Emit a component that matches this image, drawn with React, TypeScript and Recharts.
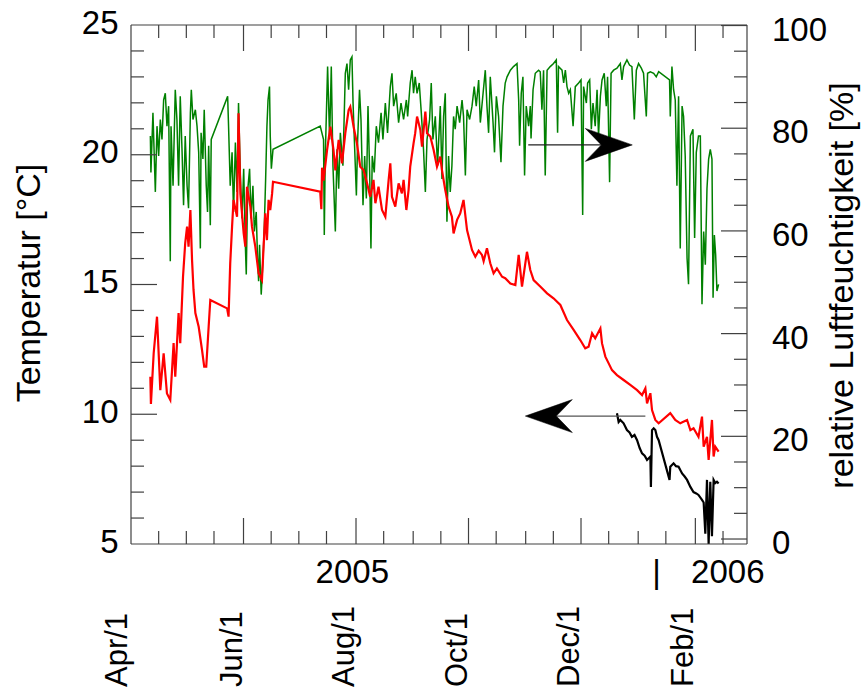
import React from 'react';
import { LineChart, Line, XAxis, YAxis, ReferenceLine } from 'recharts';

const FONT = '"Liberation Sans", Arial, Helvetica, sans-serif';
const AXIS = '#404040';

// x values are days since 1 April 2005
const tickDays = [15, 30, 45, 61, 76, 91, 106, 122, 137, 153, 168, 183, 198, 214, 229, 244, 259, 275, 290, 306, 321];
const majorDays = [61, 122, 183, 244, 306];
const monthLabelDays = [0, 61, 122, 183, 244, 306];
const monthLabels = ['Apr/1', 'Jun/1', 'Aug/1', 'Oct/1', 'Dec/1', 'Feb/1'];
const yearLabelDays = [120, 285, 323.6];
const yearLabels = ['2005', '|', '2006'];
const bottomTicks = [0, ...tickDays, ...yearLabelDays];
const tempTicks = [5, 6, 7, 8, 9, 10, 11, 12, 13, 14, 15, 16, 17, 18, 19, 20, 21, 22, 23, 24, 25];
const humTicks = [0, 5, 10, 15, 20, 25, 30, 35, 40, 45, 50, 55, 60, 65, 70, 75, 80, 85, 90, 95, 100];

type P = [number, number];

// red: Temperatur [°C]
const tempRed: P[] = [
  [10.5, 11.45], [10.8, 10.4], [12.3, 12.35], [14.1, 13.76], [15.9, 10.93], [17.7, 12.35], [19.5, 10.8], [21.3, 10.55],
  [23.1, 12.74], [24.0, 11.45], [25.8, 13.9], [26.7, 12.74], [28.2, 15.3], [29.4, 16.6], [30.4, 17.23], [31.2, 16.46],
  [32.2, 17.87], [33.1, 15.94], [33.9, 14.79], [34.9, 13.9], [36.7, 13.37], [38.5, 12.48], [39.7, 11.83], [40.8, 11.83],
  [42.1, 13.37], [43.0, 14.4],
  [52.1, 14.08], [52.9, 13.76], [53.8, 15.82], [54.8, 17.23], [55.6, 18.26], [57.5, 17.61], [58.3, 21.6], [59.3, 18.5],
  [61.1, 16.97], [62.0, 16.46], [62.9, 18.77], [64.7, 18.0], [65.6, 17.23], [67.4, 16.46], [68.3, 15.94], [69.2, 15.43],
  [71.0, 15.17], [71.9, 16.46], [72.8, 17.74], [73.7, 16.71], [74.6, 18.26], [75.5, 17.87], [76.5, 18.5], [77.0, 18.96],
  [102.6, 18.58], [103.2, 17.9], [103.6, 19.5], [104.4, 19.0], [106.3, 20.18], [108.1, 21.08], [109.8, 20.18], [110.8, 19.4],
  [112.6, 20.57], [114.4, 19.67], [116.2, 20.83], [118.0, 21.72], [118.9, 21.85], [120.7, 21.08], [122.5, 20.44], [124.3, 19.54],
  [126.1, 19.41], [128.0, 18.9], [129.7, 18.38], [131.5, 19.03], [132.5, 18.13], [134.2, 18.77], [136.1, 17.87], [137.9, 17.61],
  [139.7, 19.03], [140.6, 19.67], [141.5, 18.38], [143.3, 18.0], [145.1, 18.9], [146.9, 18.51], [147.8, 19.03], [149.3, 17.87],
  [150.5, 18.64], [151.4, 19.54], [153.2, 20.44], [154.1, 20.83], [155.1, 21.47], [156.9, 20.95], [157.8, 20.31], [159.6, 21.66],
  [160.5, 20.83], [162.3, 20.7], [164.1, 20.18], [165.9, 19.54], [167.7, 19.93], [168.6, 19.41], [170.4, 18.64], [172.2, 18.0],
  [174.0, 17.61], [174.9, 16.97], [176.8, 17.49], [178.5, 17.74], [180.3, 18.26], [182.2, 17.1], [184.9, 16.33], [186.7, 16.07],
  [188.5, 16.3], [190.3, 16.14], [191.2, 15.9], [193.0, 16.4], [194.8, 15.82], [196.6, 15.43], [198.4, 15.62], [201.2, 15.3],
  [202.9, 15.24], [205.7, 15.04], [208.4, 14.98], [210.2, 16.14], [212.0, 14.92], [214.7, 16.26], [216.5, 15.56], [218.3, 15.17],
  [221.9, 14.92], [225.6, 14.66], [229.1, 14.47], [232.8, 14.21], [236.4, 13.63], [240.0, 13.25], [243.6, 12.86], [246.3, 12.54],
  [248.1, 12.6], [250.0, 13.12], [251.7, 12.93], [254.5, 13.31], [255.4, 12.73], [257.2, 12.22], [259.0, 11.96], [260.8, 11.7],
  [263.5, 11.51], [267.1, 11.32], [270.7, 11.13], [274.4, 10.93], [277.1, 10.74], [278.9, 11.0], [279.8, 10.42], [281.6, 10.81],
  [282.5, 10.16], [284.3, 9.78], [286.1, 9.65],
  [292.4, 10.04], [295.1, 9.78], [297.8, 9.65], [301.5, 9.78], [303.3, 9.39], [305.0, 9.46], [307.7, 9.13], [309.6, 9.91],
  [310.5, 8.75], [312.3, 9.13], [313.2, 8.24], [315.0, 9.78], [315.9, 8.37], [316.8, 8.75], [318.6, 8.56],
];

// green: relative Luftfeuchtigkeit [%]
const humGreen: P[] = [
  [10.5, 78.5], [10.8, 71.4], [11.9, 83.0], [13.2, 67.6], [14.1, 80.4], [15.0, 74.6], [15.9, 81.7], [16.8, 77.8],
  [17.7, 85.5], [18.6, 86.8], [19.5, 80.4], [20.4, 84.3], [21.3, 54.1], [21.7, 80.4], [22.8, 68.8], [24.0, 87.5],
  [24.9, 81.7], [25.8, 68.8], [26.7, 86.2], [27.7, 75.3], [28.5, 65.0], [29.4, 78.5], [30.4, 68.8], [31.2, 64.4],
  [32.2, 83.0], [32.7, 87.5], [33.6, 81.7], [34.9, 83.6], [35.8, 80.4], [36.7, 75.3], [37.6, 56.6], [38.0, 79.1],
  [39.0, 74.0], [39.7, 83.6], [40.8, 68.8], [41.5, 63.7], [42.1, 76.6], [43.0, 61.1], [43.5, 77.8],
  [52.4, 86.2], [52.9, 80.4], [53.8, 68.8], [54.8, 75.3], [55.6, 63.7], [56.6, 77.2], [57.5, 67.6], [58.3, 84.9],
  [59.3, 70.8], [60.2, 62.4], [61.1, 72.1], [62.0, 57.3], [62.5, 51.5], [63.2, 67.6], [64.3, 72.1], [65.1, 62.4],
  [66.1, 68.8], [66.9, 59.9], [67.9, 63.7], [68.6, 54.7], [69.2, 50.2], [69.7, 57.3], [70.6, 47.6], [71.6, 54.7],
  [72.3, 61.1], [73.0, 70.1], [73.7, 80.4], [74.3, 85.5], [75.1, 88.1], [75.5, 78.5], [76.1, 72.1], [77.0, 75.9],
  [102.6, 80.4], [104.4, 77.8], [104.8, 59.2], [105.3, 74.0], [106.6, 92.0], [107.7, 77.8], [108.6, 92.0], [109.5, 72.7],
  [110.8, 59.9], [111.7, 75.9], [112.6, 68.2], [113.5, 79.1], [114.9, 72.7], [116.2, 90.7], [117.1, 92.6], [118.0, 87.5],
  [118.9, 93.3], [119.8, 93.9], [120.4, 84.9], [121.1, 77.8], [122.2, 66.9], [122.9, 77.8], [123.9, 87.5], [124.7, 81.7],
  [125.8, 65.0], [126.7, 74.6], [127.6, 66.3], [128.5, 84.3], [129.4, 71.4], [130.1, 56.6], [130.8, 74.6], [131.9, 71.4],
  [133.0, 80.4], [134.2, 77.2], [135.6, 83.0], [136.6, 77.8], [137.9, 84.9], [139.1, 79.1], [140.6, 88.1], [141.5, 90.7],
  [142.4, 84.3], [143.8, 86.8], [145.1, 81.1], [146.4, 84.9], [147.8, 81.7], [149.3, 85.5], [150.0, 82.3], [151.4, 88.8],
  [152.4, 91.3], [153.2, 86.8], [154.1, 90.0], [155.1, 86.8], [156.3, 88.8], [157.4, 83.0], [158.6, 75.9], [159.6, 67.6],
  [160.5, 77.8], [161.9, 81.7], [162.8, 88.8], [163.7, 77.8], [165.0, 82.3], [166.2, 72.7], [167.7, 84.3], [168.6, 70.1],
  [169.5, 82.3], [170.4, 86.8], [171.3, 61.8], [172.2, 74.6], [173.1, 67.6], [174.0, 72.7], [174.9, 82.3], [175.8, 79.8],
  [176.8, 84.3], [178.2, 81.1], [179.5, 85.5], [180.3, 82.3], [181.3, 70.8], [182.2, 83.6], [183.6, 81.7], [184.9, 84.3],
  [186.1, 88.1], [187.2, 84.3], [188.5, 89.4], [189.4, 81.1], [190.9, 86.8], [192.1, 91.3], [193.0, 84.3], [193.9, 79.1],
  [194.8, 90.0], [196.3, 81.1], [197.1, 75.3], [198.1, 86.2], [199.3, 82.3], [200.6, 73.4], [201.7, 84.3], [202.9, 88.8],
  [203.9, 90.0], [205.7, 91.3], [207.4, 92.0], [209.3, 92.6], [210.2, 85.5], [210.7, 76.6], [211.6, 86.8], [212.5, 90.0],
  [213.4, 70.8], [214.3, 84.3], [215.6, 80.4], [216.5, 84.3], [216.9, 78.0], [218.0, 87.5], [219.2, 90.7], [221.0, 91.3],
  [221.9, 91.0], [222.8, 83.6], [223.7, 91.3], [224.6, 70.8], [225.6, 91.3], [227.3, 92.0], [229.1, 92.6], [230.6, 93.3],
  [231.3, 79.1], [231.8, 92.0], [233.7, 91.3], [234.6, 88.8], [235.5, 91.3], [236.4, 88.1], [237.3, 86.8], [238.2, 87.5],
  [239.7, 80.4], [240.9, 88.1], [242.7, 88.8], [244.0, 89.4], [244.9, 63.1], [245.4, 88.1], [246.9, 84.9], [247.6, 88.8],
  [248.7, 89.4], [249.6, 79.8], [250.5, 84.9], [251.7, 80.4], [252.7, 87.5], [253.5, 78.5], [254.5, 86.2], [255.4, 89.4],
  [256.6, 90.7], [257.7, 84.3], [258.4, 90.0], [259.5, 69.5], [260.3, 90.7], [261.7, 91.3], [263.5, 91.7], [265.3, 92.6],
  [266.2, 89.4], [267.1, 92.0], [268.9, 93.3], [270.3, 92.3], [271.6, 92.0], [272.9, 81.7], [274.0, 91.3], [275.2, 92.6],
  [276.7, 91.7], [277.9, 90.7], [279.4, 82.3], [280.1, 90.7], [281.6, 91.0], [283.4, 90.7], [284.8, 90.0], [286.1, 91.0],
  [292.0, 89.4], [292.4, 82.3], [293.3, 92.0], [294.2, 87.5], [295.1, 85.5], [296.0, 68.8], [296.9, 86.2], [297.8, 56.6],
  [298.8, 84.3], [299.6, 82.3], [300.5, 74.6], [301.5, 54.7], [302.3, 49.6], [303.3, 78.5], [304.7, 79.8], [305.6, 58.6],
  [306.5, 75.3], [307.7, 78.5], [308.7, 78.5], [309.6, 45.7], [310.5, 59.9], [311.4, 53.4], [312.3, 68.2], [313.2, 74.0],
  [314.1, 75.9], [315.0, 74.0], [315.6, 47.0], [316.3, 59.2], [317.0, 55.4], [317.7, 48.3], [318.6, 49.6],
];

// black: second temperature series [°C]
const tempBlack: P[] = [
  [263.5, 10.04], [264.4, 9.7], [265.3, 9.78], [267.1, 9.65], [268.9, 9.39], [270.3, 9.3], [271.6, 9.13], [273.0, 9.2],
  [274.4, 9.0], [275.8, 8.7], [277.1, 8.49], [278.5, 8.4], [279.8, 8.24], [281.6, 8.37], [281.9, 7.2], [282.5, 9.39],
  [283.4, 9.46], [284.3, 9.39], [285.2, 9.13], [286.1, 9.0],
  [292.0, 7.47], [292.4, 7.98], [294.2, 8.11], [295.5, 8.0], [296.9, 7.98], [298.8, 7.72], [300.2, 7.6], [301.5, 7.47],
  [303.3, 7.2], [305.0, 7.0], [306.5, 6.95], [307.7, 6.89], [309.6, 6.7], [310.5, 6.6], [311.4, 5.4], [312.3, 7.47],
  [313.2, 5.0], [314.1, 7.4], [315.0, 5.3], [315.9, 7.47], [316.8, 7.35], [317.7, 7.4], [318.6, 7.33],
];

// annotation arrows: [fromDay, toDay, temperature level]
const arrowRight: [number, number, number] = [215.4, 271.8, 20.38];
const arrowLeft: [number, number, number] = [278.9, 213.8, 9.93];

const toRows = (a: P[]) => a.map(([d, v]) => ({ d, v }));
const redRows = toRows(tempRed);
const greenRows = toRows(humGreen);
const blackRows = toRows(tempBlack);

const BottomTick = (props: any) => {
  const { x, y, payload } = props;
  const v = payload.value;
  const els: React.ReactNode[] = [];
  if (tickDays.includes(v)) {
    const len = majorDays.includes(v) ? 26 : 13;
    els.push(<line key="t" x1={x} y1={y} x2={x} y2={y - len} stroke={AXIS} strokeWidth={1.2} />);
  }
  const mi = monthLabelDays.indexOf(v);
  if (mi >= 0) {
    const bx = x - (v === 0 ? 4 : 2);
    const by = y + 143;
    els.push(
      <text key="m" x={bx} y={by} transform={`rotate(-90 ${bx} ${by})`} fontSize={31} fontFamily={FONT} fill="#000">
        {monthLabels[mi]}
      </text>
    );
  }
  const yi = yearLabelDays.indexOf(v);
  if (yi >= 0) {
    els.push(
      <text key="y" x={x} y={y + 39} textAnchor="middle" fontSize={33} fontFamily={FONT} fill="#000">
        {yearLabels[yi]}
      </text>
    );
  }
  return <g>{els}</g>;
};

const TopTick = (props: any) => {
  const { x, y, payload } = props;
  const len = majorDays.includes(payload.value) ? 26 : 13;
  return <line x1={x} y1={y} x2={x} y2={y + len} stroke={AXIS} strokeWidth={1.2} />;
};

const LeftTick = (props: any) => {
  const { x, y, payload } = props;
  const v = payload.value;
  const major = v % 5 === 0;
  return (
    <g>
      {v !== 5 && v !== 25 && (
        <line x1={x} y1={y} x2={x + (major ? 26 : 13)} y2={y} stroke={AXIS} strokeWidth={1.2} />
      )}
      {major && (
        <text x={x - 12.5} y={y + 8.5} textAnchor="end" fontSize={33} fontFamily={FONT} fill="#000">
          {v}
        </text>
      )}
    </g>
  );
};

const RightTick = (props: any) => {
  const { x, y, payload } = props;
  const v = payload.value;
  const major = v % 20 === 0;
  return (
    <g>
      <line x1={x} y1={y} x2={x - (major ? 26 : 13)} y2={y} stroke={AXIS} strokeWidth={1.2} />
      {major && (
        <text x={x + 25} y={y + 15} textAnchor="start" fontSize={33} fontFamily={FONT} fill="#000">
          {v}
        </text>
      )}
    </g>
  );
};

const LeftTitle = () => (
  <text x={40} y={283} transform="rotate(-90 40 283)" textAnchor="middle" fontSize={34} fontFamily={FONT} fill="#000">
    Temperatur [°C]
  </text>
);

const RightTitle = () => (
  <text x={853} y={285.5} transform="rotate(-90 853 285.5)" textAnchor="middle" fontSize={34} fontFamily={FONT} fill="#000">
    relative Luftfeuchtigkeit [%]
  </text>
);

const ArrowShape = (p: any) => {
  const { x1, y1, x2, y2, stroke } = p;
  const dir = x2 > x1 ? 1 : -1;
  const L = 47;
  const W = 16.5;
  const N = 31;
  const pts = [
    [x2, y2],
    [x2 - dir * L, y2 - W],
    [x2 - dir * N, y2],
    [x2 - dir * L, y2 + W],
  ]
    .map((q) => q.join(','))
    .join(' ');
  return (
    <g>
      <line x1={x1} y1={y1} x2={x2 - dir * N} y2={y2} stroke={stroke} strokeWidth={1.3} />
      <polygon points={pts} fill="#000" stroke="#000" strokeWidth={0.5} />
    </g>
  );
};

export default function App() {
  return (
    <div style={{ position: 'absolute', left: 0, top: 0, width: 864, height: 690, background: '#fff' }}>
      <LineChart width={864} height={690} margin={{ top: 0, right: 0, bottom: 0, left: 0 }}>
        <XAxis
          xAxisId="b"
          type="number"
          dataKey="d"
          orientation="bottom"
          domain={[0, 334]}
          ticks={bottomTicks}
          interval={0}
          height={146}
          tickSize={0}
          tickMargin={0}
          tickLine={false}
          axisLine={{ stroke: AXIS, strokeWidth: 1.2 }}
          tick={<BottomTick />}
          allowDataOverflow
        />
        <XAxis
          xAxisId="t"
          type="number"
          dataKey="d"
          orientation="top"
          domain={[0, 334]}
          ticks={tickDays}
          interval={0}
          height={25}
          tickSize={0}
          tickMargin={0}
          tickLine={false}
          axisLine={{ stroke: AXIS, strokeWidth: 1.2 }}
          tick={<TopTick />}
          allowDataOverflow
        />
        <YAxis
          yAxisId="left"
          type="number"
          orientation="left"
          domain={[5, 25]}
          ticks={tempTicks}
          interval={0}
          width={131}
          tickSize={0}
          tickMargin={0}
          tickLine={false}
          axisLine={{ stroke: AXIS, strokeWidth: 1.2 }}
          tick={<LeftTick />}
          allowDataOverflow
          label={LeftTitle}
        />
        <YAxis
          yAxisId="right"
          type="number"
          orientation="right"
          domain={[-0.97, 100.1]}
          ticks={humTicks}
          interval={0}
          width={117}
          tickSize={0}
          tickMargin={0}
          tickLine={false}
          axisLine={{ stroke: AXIS, strokeWidth: 1.2 }}
          tick={<RightTick />}
          allowDataOverflow
          label={RightTitle}
        />
        <Line
          xAxisId="b"
          yAxisId="right"
          data={greenRows}
          dataKey="v"
          type="linear"
          stroke="#008000"
          strokeWidth={1.5}
          strokeLinejoin="miter"
          dot={false}
          activeDot={false}
          isAnimationActive={false}
        />
        <Line
          xAxisId="b"
          yAxisId="left"
          data={redRows}
          dataKey="v"
          type="linear"
          stroke="#ff0000"
          strokeWidth={2.2}
          dot={false}
          activeDot={false}
          isAnimationActive={false}
        />
        <Line
          xAxisId="b"
          yAxisId="left"
          data={blackRows}
          dataKey="v"
          type="linear"
          stroke="#000000"
          strokeWidth={2.2}
          dot={false}
          activeDot={false}
          isAnimationActive={false}
        />
        <ReferenceLine
          xAxisId="b"
          yAxisId="left"
          segment={[
            { x: arrowRight[0], y: arrowRight[2] },
            { x: arrowRight[1], y: arrowRight[2] },
          ]}
          stroke="#222"
          shape={ArrowShape}
        />
        <ReferenceLine
          xAxisId="b"
          yAxisId="left"
          segment={[
            { x: arrowLeft[0], y: arrowLeft[2] },
            { x: arrowLeft[1], y: arrowLeft[2] },
          ]}
          stroke="#555"
          shape={ArrowShape}
        />
      </LineChart>
    </div>
  );
}
